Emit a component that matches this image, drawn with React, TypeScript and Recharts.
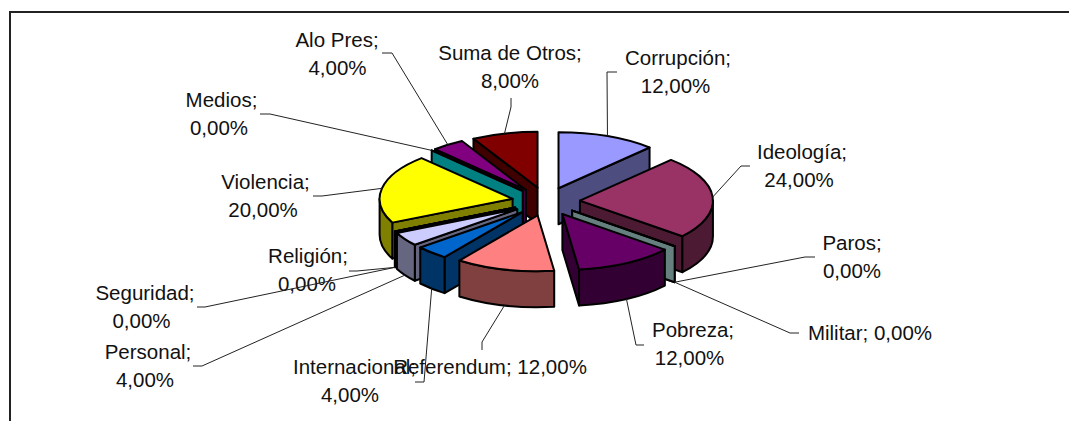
import { Pie, PieChart } from "recharts"

const categories = [
  "Corrupción", "Ideología", "Paros", "Militar", "Pobreza", "Referendum", "Internacional",
  "Personal", "Seguridad", "Religión", "Violencia", "Medios", "Alo Pres", "Suma de Otros",
]
const shares = [12, 24, 0, 0, 12, 12, 4, 4, 0, 0, 20, 0, 4, 8]
const topColors = [
  "#9999ff", "#993366", "#ffffcc", "#ccffff", "#660066", "#ff8080", "#0066cc",
  "#ccccff", "#000080", "#ff00ff", "#ffff00", "#00ffff", "#800080", "#800000",
]
const sideColors = [
  "#4d4d80", "#4d1a33", "#808066", "#668080", "#330033", "#804040", "#003366",
  "#666680", "#000040", "#800080", "#808000", "#008080", "#400040", "#400000",
]

// where each label sits and how its leader line reaches it: [x, y] pairs, x2 centres the second line
const labelSpots: Record<string, { at: number[]; x2?: number; elbow: number[]; end: number[] }> = {
  "Corrupción": { at: [678, 58], x2: 675.5, elbow: [607, 72], end: [617, 72] },
  "Ideología": { at: [802, 152], x2: 799, elbow: [741, 166], end: [750, 166] },
  "Paros": { at: [852, 243], x2: 852, elbow: [805, 257], end: [815, 257] },
  "Militar": { at: [870, 333], elbow: [790, 333], end: [799, 333] },
  "Pobreza": { at: [693, 330], x2: 689.5, elbow: [636, 345], end: [644, 345] },
  "Referendum": { at: [490, 367], elbow: [482, 342], end: [482, 350] },
  "Internacional": { at: [354.5, 367], x2: 350, elbow: [424, 382], end: [415, 382] },
  "Personal": { at: [148, 352], x2: 145, elbow: [202, 366], end: [193, 366] },
  "Seguridad": { at: [145, 293], x2: 141.5, elbow: [205, 307], end: [197, 307] },
  "Religión": { at: [308, 256], x2: 307, elbow: [357, 271], end: [349, 271] },
  "Violencia": { at: [265.5, 182], x2: 263, elbow: [322, 196], end: [313, 196] },
  "Medios": { at: [221.5, 100], x2: 219, elbow: [270, 114], end: [260, 114] },
  "Alo Pres": { at: [337, 40], x2: 337.5, elbow: [392, 53], end: [382, 53] },
  "Suma de Otros": { at: [510, 53], x2: 510, elbow: [511, 107], end: [511, 98] },
}

const CX = 546
const CY = 201.5
const RADIUS = 133
const TILT = 0.42
const DEPTH = 36
const EXPLODE = 34

const slices = categories.map((name, i) => ({
  name,
  value: shares[i],
  top: topColors[i],
  side: sideColors[i],
}))

// t is degrees clockwise from the top of the pie
const rad = (t: number) => (t * Math.PI) / 180
const clockwise = (recharts: number) => 90 - recharts

function onPlane(cx: number, cy: number, r: number, t: number) {
  return { x: cx + r * Math.sin(rad(t)), y: cy - r * TILT * Math.cos(rad(t)) }
}

function apexOf(cx: number, cy: number, mid: number) {
  return onPlane(cx, cy, EXPLODE, mid)
}

function SliceShape(props: any) {
  const { cx, cy, outerRadius, startAngle, endAngle, midAngle, top, side } = props
  const a = clockwise(startAngle)
  const b = clockwise(endAngle)
  const shift = Math.min(a, b) < 0 ? 360 : 0
  const lo = Math.min(a, b) + shift
  const hi = Math.max(a, b) + shift
  const mid = (lo + hi) / 2
  const rightHalf = mid < 180
  // each Pie paints one half so the slices stack from back to front
  if (rightHalf !== props.wantRight || midAngle === undefined) return null

  const apex = apexOf(cx, cy, mid)
  const p = (t: number) => onPlane(apex.x, apex.y, outerRadius, t)
  const rx = outerRadius
  const ry = outerRadius * TILT
  const outline = { stroke: "#000", strokeWidth: 2, strokeLinejoin: "round" as const }

  const face = (t: number) => {
    const e = p(t)
    return `M${apex.x} ${apex.y}L${e.x} ${e.y}L${e.x} ${e.y + DEPTH}L${apex.x} ${apex.y + DEPTH}Z`
  }
  const from = Math.max(lo, 90)
  const to = Math.min(hi, 270)
  const s = p(from)
  const e = p(to)
  const rim = `M${s.x} ${s.y}A${rx} ${ry} 0 0 1 ${e.x} ${e.y}L${e.x} ${e.y + DEPTH}A${rx} ${ry} 0 0 0 ${s.x} ${s.y + DEPTH}Z`
  const u = p(lo)
  const v = p(hi)
  const cap = `M${apex.x} ${apex.y}L${u.x} ${u.y}A${rx} ${ry} 0 ${hi - lo > 180 ? 1 : 0} 1 ${v.x} ${v.y}Z`

  return (
    <g>
      {Math.sin(rad(lo)) < 0 && <path d={face(lo)} fill={side} {...outline} />}
      {Math.sin(rad(hi)) > 0 && <path d={face(hi)} fill={side} {...outline} />}
      {to > from && <path d={rim} fill={side} {...outline} />}
      <path d={cap} fill={top} {...outline} />
    </g>
  )
}

function SliceLabel(props: any) {
  const { cx, cy, outerRadius, midAngle, name, value } = props
  const mid = (clockwise(midAngle) + 360) % 360
  if (mid < 180 !== props.wantRight) return null
  const spot = labelSpots[name]
  const apex = apexOf(cx, cy, mid)
  const rim = onPlane(apex.x, apex.y, outerRadius, mid)
  const startY = Math.cos(rad(mid)) < 0 ? rim.y + DEPTH : rim.y
  const pct = `${value.toFixed(2).replace(".", ",")}%`
  const text = { textAnchor: "middle" as const, dominantBaseline: "central" as const, fontSize: 20.5, fontFamily: "'Liberation Sans', Arial, sans-serif", fill: "#111" }
  const y = spot.at[1] - 0.5

  return (
    <g>
      {spot.x2 === undefined ? (
        <text x={spot.at[0]} y={y} {...text}>{`${name}; ${pct}`}</text>
      ) : (
        <>
          <text x={spot.at[0]} y={y} {...text}>{`${name};`}</text>
          <text x={spot.x2} y={y + 27.5} {...text}>{pct}</text>
        </>
      )}
      <polyline
        points={`${rim.x},${startY} ${spot.elbow[0]},${spot.elbow[1]} ${spot.end[0]},${spot.end[1]}`}
        fill="none"
        stroke="#222"
        strokeWidth={1}
      />
    </g>
  )
}

export default function App() {
  return (
    <div style={{ position: "absolute", left: 0, top: 0, width: 1069, height: 421, background: "#fff", overflow: "hidden" }}>
      <div style={{ position: "absolute", left: 9, top: 11, right: 0, bottom: 0, borderLeft: "2px solid #222", borderTop: "2px solid #222" }} />
      <div style={{ position: "absolute", left: 0, top: 0 }}>
        <PieChart width={1069} height={421} margin={{ top: 0, right: 0, bottom: 0, left: 0 }}>
          <Pie
            data={[...slices].reverse()}
            dataKey="value"
            nameKey="name"
            cx={CX}
            cy={CY}
            outerRadius={RADIUS}
            startAngle={90}
            endAngle={450}
            stroke="none"
            isAnimationActive={false}
            shape={(p: any) => <SliceShape {...p} wantRight={false} />}
            label={(p: any) => <SliceLabel {...p} wantRight={false} />}
            labelLine={false}
          />
          <Pie
            data={slices}
            dataKey="value"
            nameKey="name"
            cx={CX}
            cy={CY}
            outerRadius={RADIUS}
            startAngle={90}
            endAngle={-270}
            stroke="none"
            isAnimationActive={false}
            shape={(p: any) => <SliceShape {...p} wantRight={true} />}
            label={(p: any) => <SliceLabel {...p} wantRight={true} />}
            labelLine={false}
          />
        </PieChart>
      </div>
    </div>
  )
}
